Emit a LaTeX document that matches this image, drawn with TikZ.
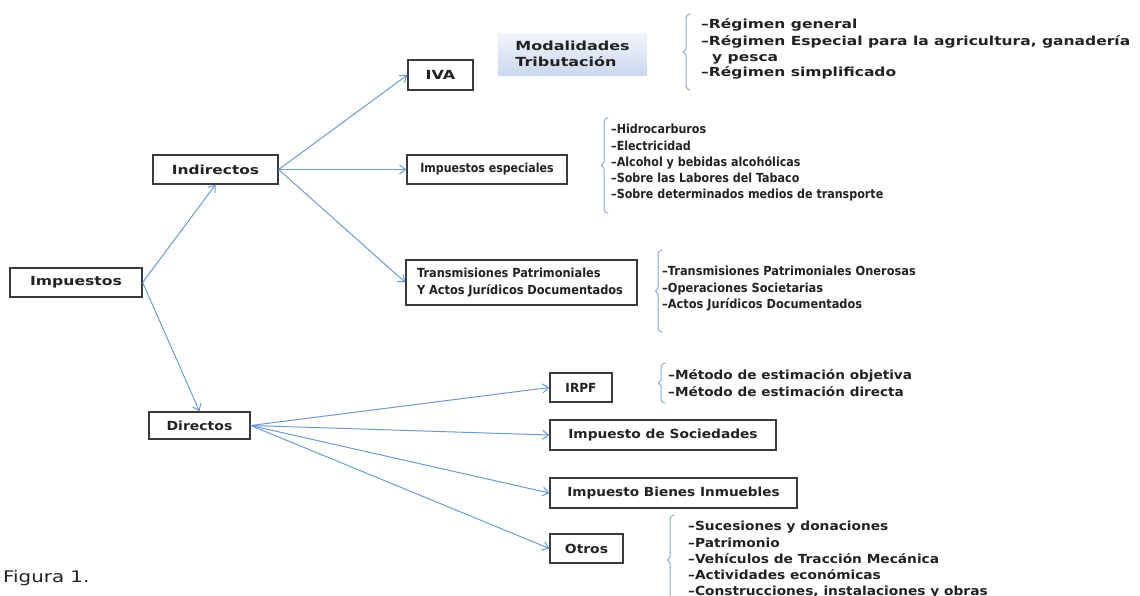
\documentclass[tikz,border=0pt]{standalone}
\usepackage{fontspec}
\usepackage{graphicx}
\setmainfont{DejaVu Sans}
\usetikzlibrary{arrows.meta}
\definecolor{arrowblue}{HTML}{6E9AD2}
\definecolor{bracecol}{HTML}{8AAAD8}
\definecolor{boxline}{HTML}{3A3A3A}
\definecolor{txt}{HTML}{222222}
\definecolor{modtop}{HTML}{F2F5FB}
\definecolor{modbot}{HTML}{CBD8EE}
\newcommand{\hs}[2]{\scalebox{#1}[1]{#2}}
\begin{document}
\begin{tikzpicture}[x=1pt,y=-1pt,
  boxn/.style={draw=boxline,line width=1.3pt,fill=white,inner sep=0pt,
     font=\bfseries\fontsize{12.5}{15}\selectfont,text=txt},
  item/.style={anchor=west,inner sep=0pt,font=\bfseries\fontsize{12.5}{15}\selectfont,
     text=txt,text height=9pt,text depth=2.8pt},
  conn/.style={draw=arrowblue,line width=1pt,-{Straight Barb[length=6pt,width=9pt]}},
  brc/.style={draw=bracecol,line width=1pt,line cap=round,line join=round}]
\useasboundingbox (0,0) rectangle (1140,595);
% boxes
\node[boxn,minimum width=132pt,minimum height=29pt] (imp) at (76,282.5) {\hs{1.25}{Impuestos}};
\node[boxn,minimum width=125pt,minimum height=29pt] (ind) at (215.5,169.5) {\hs{1.23}{Indirectos}};
\node[boxn,minimum width=101pt,minimum height=27pt] (dir) at (199.5,425.5) {\hs{1.12}{Directos}};
\node[boxn,minimum width=65pt,minimum height=30pt] (iva) at (440.5,75) {\hs{1.28}{IVA}};
\node[boxn,minimum width=160pt,minimum height=29pt] (esp) at (487,169.5) {\hs{0.88}{Impuestos especiales}};
\node[boxn,minimum width=231pt,minimum height=45pt,align=left,text width=209pt,
  font=\bfseries\fontsize{12.5}{17.5}\selectfont] (tpa) at (521.5,282.5)
  {\hs{0.91}{Transmisiones Patrimoniales}\\\hs{0.91}{Y Actos Jurídicos Documentados}};
\node[boxn,minimum width=62pt,minimum height=29pt] (irpf) at (581,387.5) {\hs{0.97}{IRPF}};
\node[boxn,minimum width=226pt,minimum height=30pt] (soc) at (663,435) {\hs{1.1}{Impuesto de Sociedades}};
\node[boxn,minimum width=247pt,minimum height=30pt] (ibi) at (673.5,493) {\hs{1.09}{Impuesto Bienes Inmuebles}};
\node[boxn,minimum width=73pt,minimum height=29pt] (otr) at (586.5,548.5) {\hs{1.11}{Otros}};
% modalidades
\node[top color=modtop,bottom color=modbot,minimum width=149pt,minimum height=42pt,
  inner sep=0pt,align=left,font=\bfseries\fontsize{12.5}{16.5}\selectfont,text=txt] (mod)
  at (572.5,54) {\hs{1.28}{Modalidades}\\\hs{1.28}{Tributación}};
% connectors
\coordinate (impR) at (imp.east);
\coordinate (indR) at (ind.east);
\coordinate (dirR) at (dir.east);
\draw[conn] (impR) -- (ind.south);
\draw[conn] (impR) -- (dir.north);
\draw[conn] (indR) -- (iva.west);
\draw[conn] (indR) -- (esp.west);
\draw[conn] (indR) -- (tpa.west);
\draw[conn] (dirR) -- (irpf.west);
\draw[conn] (dirR) -- (soc.west);
\draw[conn] (dirR) -- (ibi.west);
\draw[conn] (dirR) -- (otr.west);
% braces
\newcommand{\lbrc}[3]{% x, ytop, ybottom
  \draw[brc] (#1+4,#2) to[out=180,in=90] (#1,#2+4) -- (#1,{(#2+#3)/2-3})
    -- (#1-2.5,{(#2+#3)/2}) -- (#1,{(#2+#3)/2+3}) -- (#1,#3-4) to[out=-90,in=180] (#1+4,#3);}
\lbrc{686}{14}{90}
\lbrc{604}{118}{213}
\lbrc{658}{250}{332}
\lbrc{661}{363}{403}
\lbrc{670}{515}{605}
% lists
\node[item] (a1) at (701,25) {\hs{1.24}{–Régimen general}};
\node[item] (a2) at (701,42) {\hs{1.24}{–Régimen Especial para la agricultura, ganadería}};
\node[item] (a3) at (712,58) {\hs{1.24}{y pesca}};
\node[item] (a4) at (701,73) {\hs{1.24}{–Régimen simplificado}};
\node[item] (b1) at (611,130) {\hs{0.89}{–Hidrocarburos}};
\node[item] (b2) at (611,147) {\hs{0.89}{–Electricidad}};
\node[item] (b3) at (611,163) {\hs{0.89}{–Alcohol y bebidas alcohólicas}};
\node[item] (b4) at (611,179) {\hs{0.89}{–Sobre las Labores del Tabaco}};
\node[item] (b5) at (611,195) {\hs{0.89}{–Sobre determinados medios de transporte}};
\node[item] (c1) at (662,272) {\hs{0.91}{–Transmisiones Patrimoniales Onerosas}};
\node[item] (c2) at (662,289) {\hs{0.91}{–Operaciones Societarias}};
\node[item] (c3) at (662,305) {\hs{0.91}{–Actos Jurídicos Documentados}};
\node[item] (d1) at (668,376) {\hs{1.09}{–Método de estimación objetiva}};
\node[item] (d2) at (668,393) {\hs{1.09}{–Método de estimación directa}};
\node[item] (e1) at (688,527) {\hs{1.1}{–Sucesiones y donaciones}};
\node[item] (e2) at (688,544) {\hs{1.1}{–Patrimonio}};
\node[item] (e3) at (688,560) {\hs{1.1}{–Vehículos de Tracción Mecánica}};
\node[item] (e4) at (688,576) {\hs{1.1}{–Actividades económicas}};
\node[item] (e5) at (688,592) {\hs{1.1}{–Construcciones, instalaciones y obras}};
% caption
\node[anchor=west,inner sep=0pt,font=\fontsize{16}{18}\selectfont,text=txt] (fig) at (3,578) {\hs{1.24}{Figura 1.}};
\end{tikzpicture}
\end{document}
